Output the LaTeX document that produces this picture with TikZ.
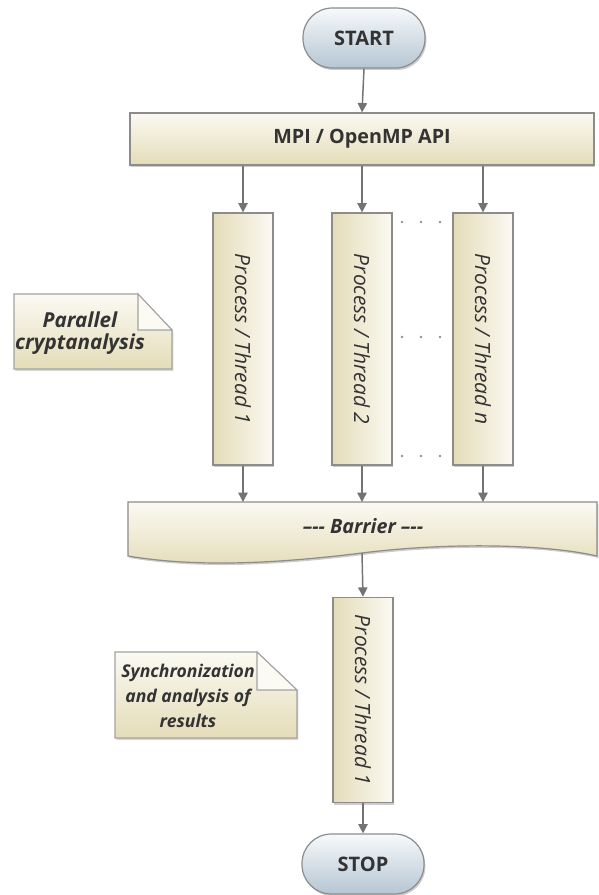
\documentclass[tikz,border=0pt]{standalone}
\usepackage{fontspec}
\setmainfont{Open Sans}
\usetikzlibrary{arrows.meta,shadows}
\definecolor{cream}{HTML}{E4DCB8}
\definecolor{creamlt}{HTML}{FBFAF3}
\definecolor{pillbot}{HTML}{B5C6D3}
\definecolor{pilltop}{HTML}{F7F9FB}
\definecolor{edgegrey}{HTML}{8C8C8C}
\definecolor{arrowgrey}{HTML}{737373}
\definecolor{textdark}{HTML}{333333}
\tikzset{
  pill/.style={draw=edgegrey, line width=0.9pt, rounded corners=22pt, top color=pilltop, bottom color=pillbot,
    minimum width=91.5pt, minimum height=45pt, font=\fontsize{15}{17}\selectfont\bfseries, text=textdark,
    drop shadow={shadow xshift=1pt, shadow yshift=-1.5pt, fill=black, opacity=0.2}},
  apibox/.style={draw=edgegrey, line width=0.9pt, top color=creamlt, bottom color=cream,
    minimum width=348pt, minimum height=39pt, font=\fontsize{14.8}{17}\selectfont\bfseries, text=textdark,
    drop shadow={shadow xshift=1pt, shadow yshift=-1.5pt, fill=black, opacity=0.2}},
  procbox/.style={draw=edgegrey, line width=0.9pt, left color=cream, right color=creamlt,
    minimum width=45pt, font=\fontsize{15.7}{18}\selectfont\itshape, text=textdark, rotate=-90,
    drop shadow={shadow xshift=1pt, shadow yshift=-1.5pt, fill=black, opacity=0.2}},
  conn/.style={draw=arrowgrey, line width=1.1pt, -{Triangle[length=7pt,width=7pt]}},
  notetext/.style={text=textdark, align=center},
  dotmark/.style={circle, fill=arrowgrey!80, inner sep=0pt, minimum size=2.2pt},
  notefill/.style={draw=edgegrey!80, line width=0.8pt, top color=creamlt, bottom color=cream},
}
\begin{document}
\begin{tikzpicture}[x=0.75pt,y=-0.75pt]
\useasboundingbox (0,0) rectangle (599,895);
% start / api
\node[pill] (start) at (364,38) {START};
\node[apibox] (api) at (362,139) {MPI / OpenMP API};
% process boxes
\node[procbox, minimum width=189pt, minimum height=45pt] (p1) at (243,339) {Process / Thread 1};
\node[procbox, minimum width=189pt, minimum height=45pt] (p2) at (362,339) {Process / Thread 2};
\node[procbox, minimum width=189pt, minimum height=45pt] (pn) at (483,339) {Process / Thread \textit{n}};
% dots
\foreach \yy [count=\i] in {222,337,456}{
  \node[dotmark] (da\i) at (402,\yy) {};
  \node[dotmark] (db\i) at (421,\yy) {};
  \node[dotmark] (dc\i) at (440,\yy) {};
}
% barrier (document shape)
\fill[black, opacity=0.2, xshift=1pt, yshift=-1.5pt] (128,502) -- (597,502) -- (597,556)
  .. controls (540,543) and (440,543) .. (362,553) .. controls (280,563) and (200,568) .. (128,556) -- cycle;
\path[draw=edgegrey, line width=0.9pt, top color=creamlt, bottom color=cream]
  (128,502) -- (597,502) -- (597,556)
  .. controls (540,543) and (440,543) .. (362,553) .. controls (280,563) and (200,568) .. (128,556) -- cycle;
\node[font=\fontsize{14.8}{17}\selectfont\bfseries\itshape, text=textdark] (barrier) at (363,526) {--{}-{}- Barrier --{}-{}-};
\coordinate (btop1) at (243,502);
\coordinate (btop2) at (362,502);
\coordinate (btopn) at (483,502);
\coordinate (bbot) at (362,553);
% final process
\node[procbox, minimum width=154pt, minimum height=45pt] (pf) at (363,700) {Process / Thread 1};
\node[pill] (stop) at (363,864) {STOP};
% notes
\fill[black, opacity=0.15, xshift=1pt, yshift=-1.5pt] (14,294) -- (138,294) -- (172,330) -- (172,369) -- (14,369) -- cycle;
\path[notefill] (14,294) -- (138,294) -- (172,330) -- (172,369) -- (14,369) -- cycle;
\path[draw=edgegrey!80, line width=0.8pt, fill=creamlt] (138,294) -- (138,330) -- (172,330) -- cycle;
\node[notetext, font=\fontsize{15.5}{16.5}\selectfont\bfseries\itshape] (note1) at (80,333) {Parallel\\cryptanalysis};
\fill[black, opacity=0.15, xshift=1pt, yshift=-1.5pt] (115,652) -- (257,652) -- (297,690) -- (297,738) -- (115,738) -- cycle;
\path[notefill] (115,652) -- (257,652) -- (297,690) -- (297,738) -- (115,738) -- cycle;
\path[draw=edgegrey!80, line width=0.8pt, fill=creamlt] (257,652) -- (257,690) -- (297,690) -- cycle;
\node[notetext, font=\fontsize{13.2}{18.5}\selectfont\bfseries\itshape] (note2) at (188,696) {Synchronization\\and analysis of\\results};
% connectors
\draw[conn] (start.south) -- (api.north);
\draw[conn] (api.south -| p1.east) -- (p1.west);
\draw[conn] (api.south -| p2.east) -- (p2.west);
\draw[conn] (api.south -| pn.east) -- (pn.west);
\draw[conn] (p1.east) -- (btop1);
\draw[conn] (p2.east) -- (btop2);
\draw[conn] (pn.east) -- (btopn);
\draw[conn] (bbot) -- (pf.west);
\draw[conn] (pf.east) -- (stop.north);
\end{tikzpicture}
\end{document}
